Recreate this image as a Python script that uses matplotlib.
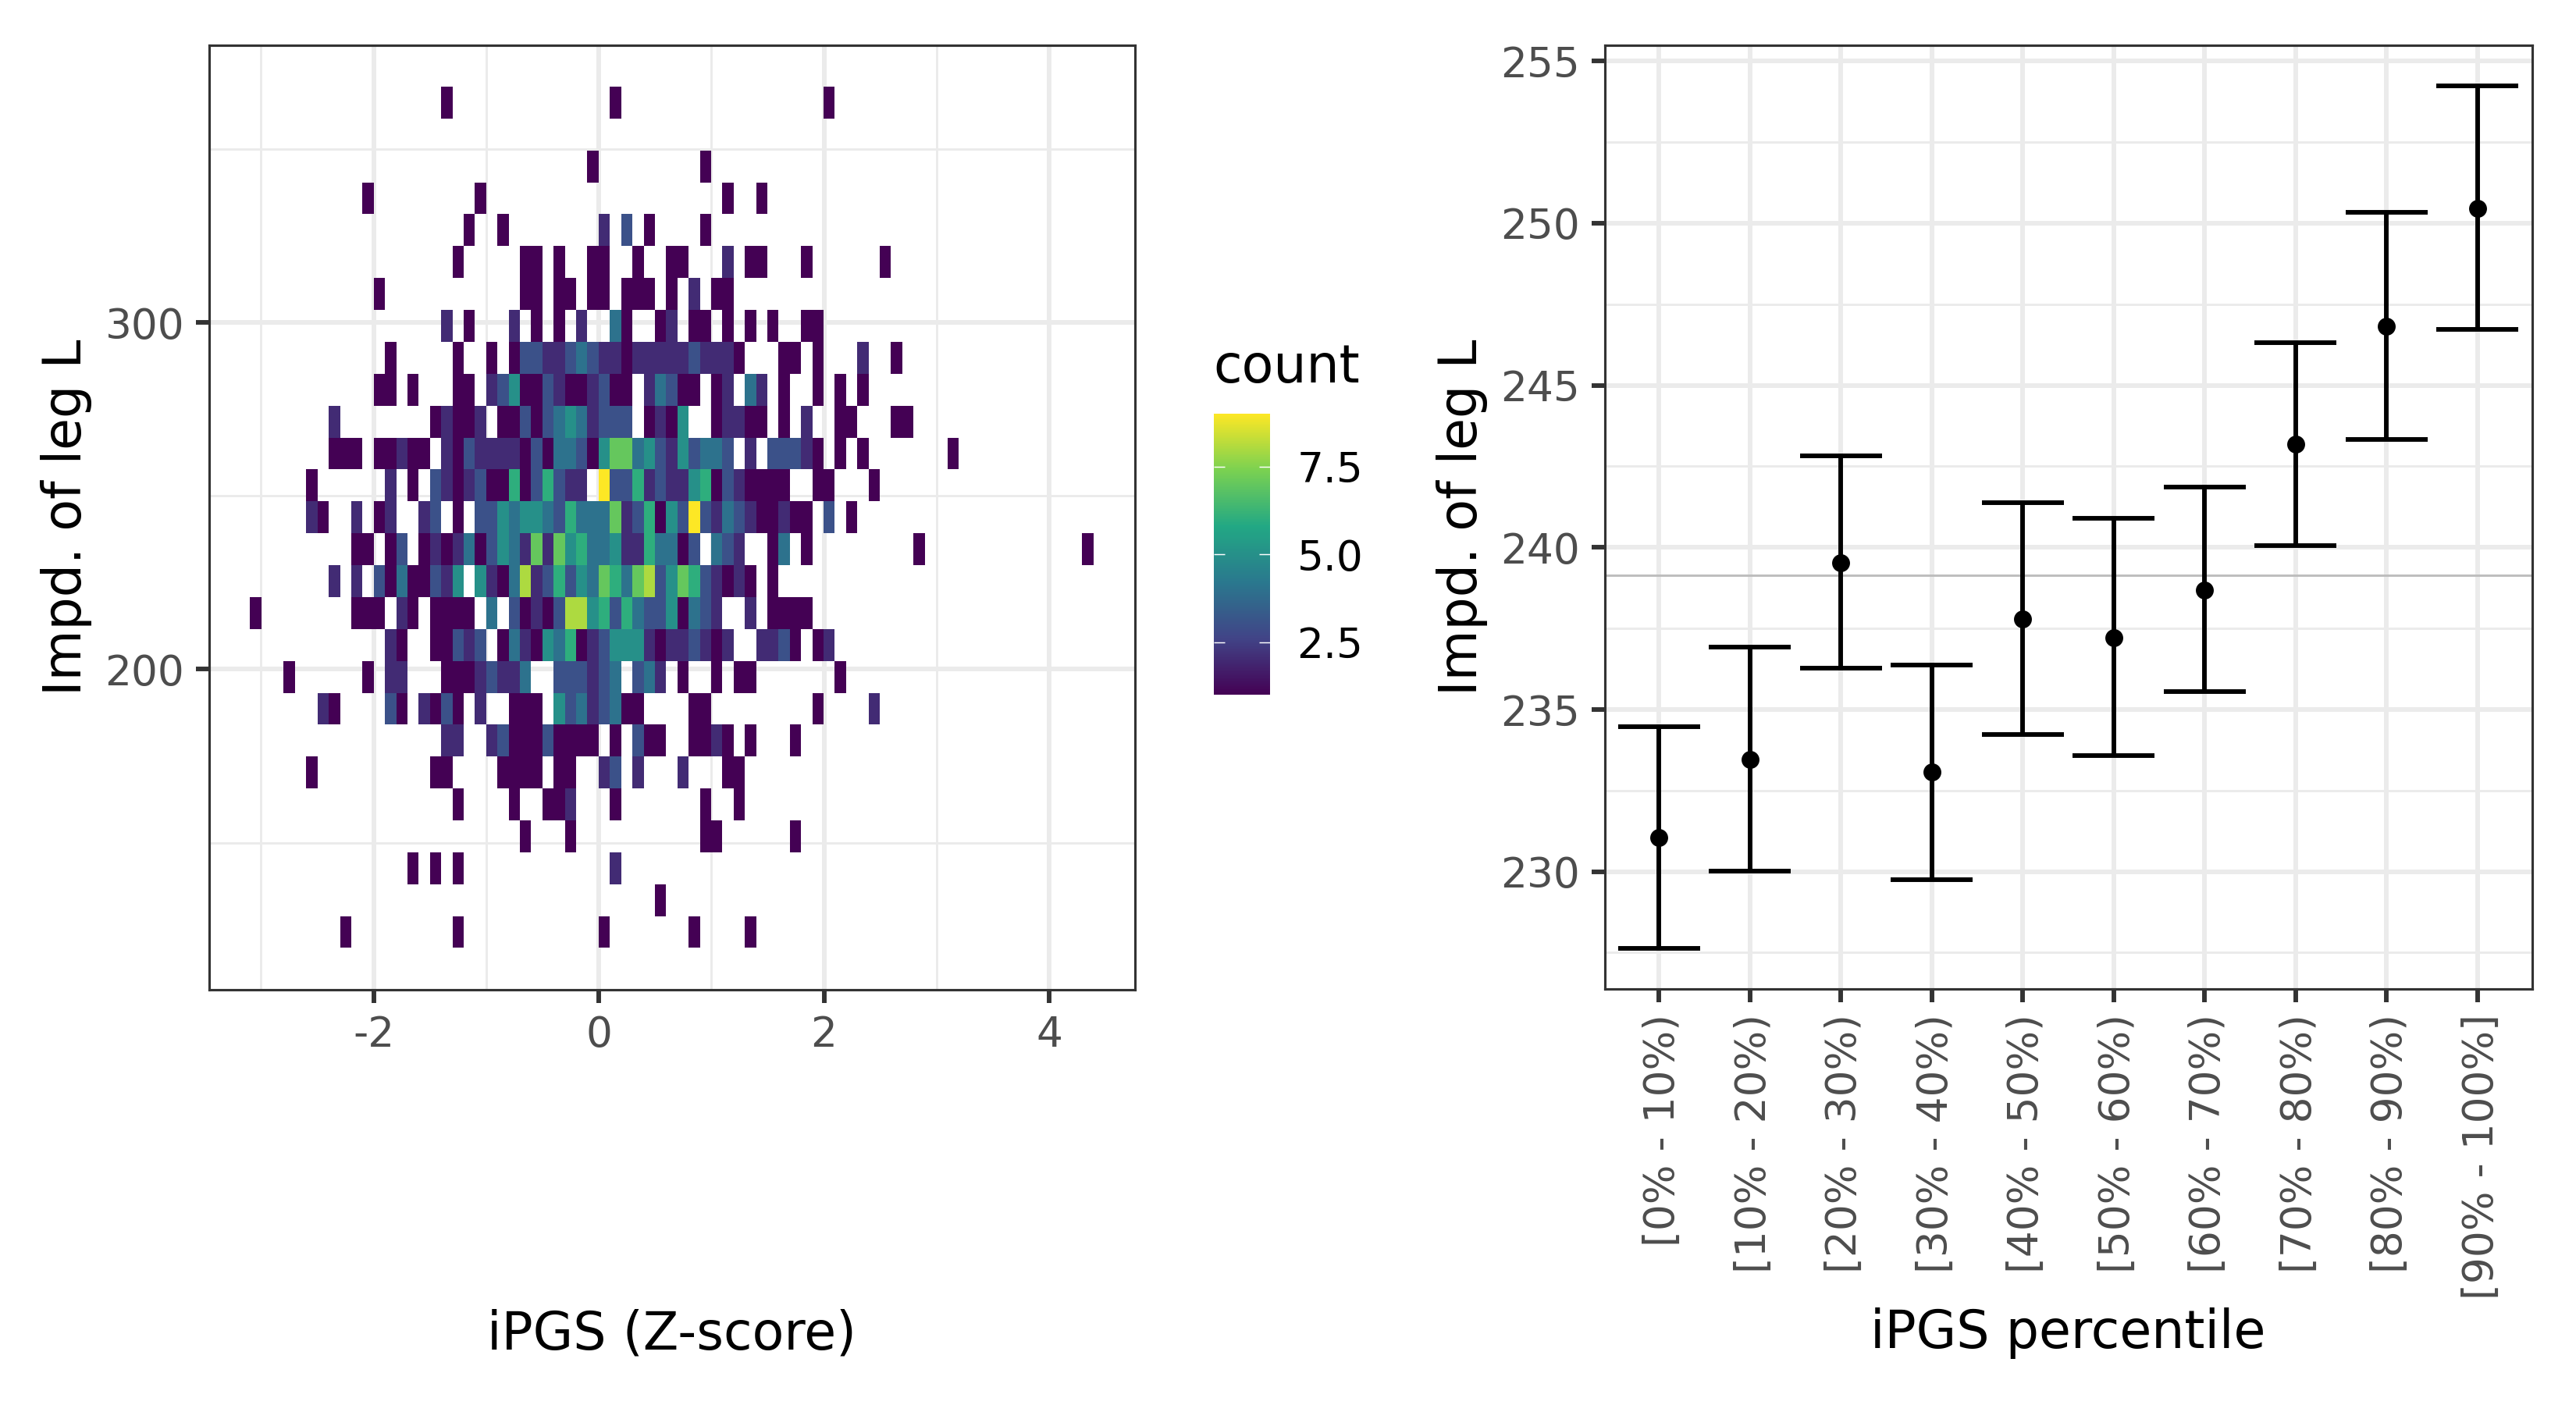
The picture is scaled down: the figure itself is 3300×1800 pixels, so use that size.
#!/usr/bin/python3

import matplotlib
matplotlib.use("Agg")
import matplotlib.pyplot as plt
import numpy as np
from matplotlib.colors import LinearSegmentedColormap
from matplotlib.transforms import ScaledTranslation

# left panel: 2d histogram, one list per row from the top, (first column, counts)
FIRST_COL = -10
N_COLS = 75
x_min, x_max = -3.098, 4.394
y_top, y_bottom = 368.0, 119.65
cell_rows = [
    [(7, [1]), (22, [1]), (41, [1])],
    [],
    [(20, [1]), (30, [1])],
    [(0, [1]), (10, [1]), (32, [1]), (35, [1])],
    [(9, [1]), (12, [1]), (21, [2]), (23, [3]), (25, [1]), (30, [1])],
    [(8, [1]), (14, [1, 1]), (17, [1]), (20, [1, 1]), (24, [1]), (27, [1, 1]), (32, [2]), (34, [1, 1]), (39, [1]), (46, [1])],
    [(1, [1]), (14, [1, 1]), (17, [1, 1]), (20, [1, 1]), (23, [1, 1, 1]), (27, [1]), (29, [2]), (31, [1, 1])],
    [(7, [2]), (9, [1]), (13, [2]), (15, [1]), (17, [1]), (19, [2]), (22, [4, 1]), (26, [1, 2]), (29, [1, 1]), (32, [1]), (34, [1]), (36, [1]), (39, [1, 1])],
    [(2, [1]), (8, [1]), (11, [1]), (13, [1, 3, 3, 2, 2, 3, 4, 3, 2, 2, 1, 2, 2, 2, 2, 2, 3, 2, 2, 2, 1]), (37, [1, 1]), (40, [1]), (44, [2]), (47, [1])],
    [(1, [1, 1]), (4, [1]), (8, [1, 1]), (11, [2, 3, 5, 1, 1, 3, 2, 1, 1, 2, 3, 1, 1]), (25, [2, 4, 3, 1, 1]), (31, [1, 2]), (34, [4, 2]), (37, [1]), (40, [1]), (42, [1]), (44, [1])],
    [(-3, [2]), (6, [1, 2, 1, 1, 2]), (12, [1, 1, 3, 1, 3, 4, 5, 4, 2, 3, 3, 3]), (25, [1, 2, 1, 5]), (31, [1, 2, 2, 1, 1]), (37, [1]), (39, [2]), (42, [1, 1]), (47, [1, 1])],
    [(-3, [1, 1, 1]), (1, [1, 1, 2, 1, 1]), (7, [2, 1, 3, 2, 2, 2, 2, 1, 3, 1, 4, 4, 3, 1, 5, 7, 7, 4, 5, 3, 2, 5, 3, 4, 4, 3]), (34, [2]), (36, [3, 3, 3, 2, 1]), (42, [1]), (44, [1]), (52, [1])],
    [(-5, [1]), (2, [2]), (4, [1]), (6, [3, 2, 1, 2, 3, 1, 1, 6, 1, 3, 6, 3, 2, 2]), (21, [9, 3, 3, 6, 2, 3, 2, 2, 5, 6, 1, 3, 2, 1, 1, 1, 1]), (40, [1, 1]), (45, [1])],
    [(-5, [2, 1]), (-1, [2]), (1, [1, 2]), (5, [2, 3]), (8, [1]), (10, [3, 3, 5, 4, 5, 5, 4, 3, 6, 4, 4, 4, 7, 2, 3, 6, 1, 5, 3, 9, 3, 2, 4, 3, 2, 1, 1, 2, 1, 1]), (41, [3]), (43, [1])],
    [(-1, [1, 1]), (2, [1, 3]), (5, [1, 2, 1, 2, 4, 1, 3, 5, 4, 2, 7, 2, 7, 5, 6, 4, 4, 5, 2, 2, 6, 4, 4, 1, 3]), (31, [4, 3, 2]), (36, [1, 4]), (39, [1]), (49, [1]), (64, [1])],
    [(-3, [2]), (-1, [2]), (1, [3, 1, 4, 1, 1, 3, 2, 5]), (10, [5, 2, 1, 4, 8, 2, 3, 6, 3, 5, 4, 7, 6, 4, 7, 8, 3, 5, 7, 6, 3, 2, 1, 2, 1]), (36, [1])],
    [(-10, [1]), (-1, [1, 1, 1]), (3, [2, 1]), (6, [1, 1, 1, 1]), (11, [4]), (13, [3, 1, 2, 1, 3, 8, 8, 5, 6, 3, 6, 4, 3, 3, 5, 1, 4, 3, 2]), (34, [2]), (36, [1, 1, 1, 1])],
    [(2, [2, 1]), (6, [1, 1, 3, 2, 3]), (12, [1, 4, 2, 1, 5, 4, 6, 1, 2, 3, 5, 5, 5, 2, 1, 2, 2, 3, 2, 1, 2]), (35, [2, 2, 3, 1]), (40, [1, 2])],
    [(-7, [1]), (0, [1]), (2, [2, 2]), (7, [1, 1, 1, 2, 3, 2, 2, 4]), (17, [3, 3, 3, 2, 3, 4]), (24, [3, 4, 2]), (28, [1]), (31, [1]), (33, [1, 1]), (42, [1])],
    [(-4, [2, 1]), (2, [3, 1]), (5, [2, 1, 3, 1]), (10, [2]), (13, [1, 1, 1]), (17, [5, 3, 4, 2, 3, 4, 1, 1]), (29, [1, 1]), (40, [1]), (45, [2])],
    [(7, [2, 2]), (11, [2, 3, 1, 1, 1, 3, 1, 1, 1, 1]), (22, [1]), (24, [3, 1, 1]), (29, [1, 1, 2, 1]), (34, [1]), (38, [1])],
    [(-5, [1]), (6, [1, 1]), (12, [1, 1, 1, 1]), (17, [1, 1]), (21, [2, 3]), (24, [2]), (28, [2]), (32, [1, 1])],
    [(8, [1]), (13, [1]), (16, [1, 1, 2]), (22, [1]), (30, [1]), (33, [1])],
    [(14, [1]), (18, [1]), (30, [1, 1]), (38, [1])],
    [(4, [1]), (6, [1]), (8, [1]), (22, [2])],
    [(26, [1])],
    [(-2, [1]), (8, [1]), (21, [1]), (29, [1]), (34, [1])],
]

# right panel: mean and confidence interval per percentile group
percentile_labels = [
    "[0% - 10%)", "[10% - 20%)", "[20% - 30%)", "[30% - 40%)", "[40% - 50%)",
    "[50% - 60%)", "[60% - 70%)", "[70% - 80%)", "[80% - 90%)", "[90% - 100%]",
]
means = [231.06, 233.47, 239.53, 233.07, 237.78, 237.21, 238.68, 243.18, 246.83, 250.46]
lower = [227.64, 230.02, 236.27, 229.75, 234.23, 233.57, 235.55, 240.05, 243.34, 246.73]
upper = [234.48, 236.92, 242.82, 236.38, 241.37, 240.89, 241.85, 246.32, 250.34, 254.23]
overall_mean = 239.13

viridis_6 = ["#440154", "#414487", "#2A788E", "#22A884", "#7AD151", "#FDE725"]

GRID = "#EBEBEB"
DARK = "#333333"
TICK_TEXT = "#4D4D4D"
W, H = 3300, 1800


def add_axes_px(fig, left, top, right, bottom):
    return fig.add_axes([left / W, 1 - bottom / H, (right - left) / W, (bottom - top) / H])


def style_panel(ax):
    for spine in ax.spines.values():
        spine.set_linewidth(0.75)
        spine.set_color(DARK)
        spine.set_zorder(5)
    ax.set_axisbelow(True)
    ax.grid(which="major", color=GRID, linewidth=1.42)
    ax.grid(which="minor", color=GRID, linewidth=0.71)
    ax.tick_params(which="major", length=4.1, width=1.42, color=DARK,
                   labelcolor=TICK_TEXT, labelsize=12.8, pad=3.5)
    ax.tick_params(which="minor", length=0)


def build_grid():
    grid = np.zeros((len(cell_rows), N_COLS))
    for r, runs in enumerate(cell_rows):
        for start, values in runs:
            for k, v in enumerate(values):
                grid[r, start - FIRST_COL + k] = v
    return np.ma.masked_equal(grid, 0)


def plot_heatmap(fig, cmap):
    ax = add_axes_px(fig, 267.9, 57.7, 1453.6, 1268)
    style_panel(ax)
    x_edges = np.linspace(x_min, x_max, N_COLS + 1)
    y_edges = np.linspace(y_top, y_bottom, len(cell_rows) + 1)
    mesh = ax.pcolormesh(x_edges, y_edges, build_grid(), cmap=cmap, vmin=1, vmax=9,
                         linewidth=0, antialiased=True, zorder=2)
    ax.set_xlim(-3.461, 4.76)
    ax.set_ylim(107.6, 380.0)
    ax.set_xticks([-2, 0, 2, 4])
    ax.set_xticks([-3, -1, 1, 3], minor=True)
    ax.set_yticks([200, 300])
    ax.set_yticks([150, 250, 350], minor=True)
    ax.set_xlabel("iPGS (Z-score)", fontsize=16, va="center")
    ax.xaxis.set_label_coords(0.5, -0.3645)
    ax.set_ylabel("Impd. of leg L", fontsize=16, va="center")
    ax.yaxis.set_label_coords(-0.154, 0.5)
    return mesh


def plot_legend(fig, mesh):
    cax = add_axes_px(fig, 1555, 530, 1627, 890)
    cbar = fig.colorbar(mesh, cax=cax)
    cbar.outline.set_visible(False)
    cbar.set_ticks([2.5, 5.0, 7.5], labels=["2.5", "5.0", "7.5"])
    cax.tick_params(length=0, labelsize=12.8, labelcolor="black", pad=8.3)
    for v in [2.5, 5.0, 7.5]:
        cax.plot([0, 0.2], [v, v], color="white", linewidth=0.35,
                 transform=cax.get_yaxis_transform(), solid_capstyle="butt")
        cax.plot([0.8, 1], [v, v], color="white", linewidth=0.35,
                 transform=cax.get_yaxis_transform(), solid_capstyle="butt")
    fig.text(1554 / W, 1 - 490 / H, "count", fontsize=16, color="black", ha="left", va="baseline")


def plot_percentiles(fig):
    ax = add_axes_px(fig, 2055.5, 57.9, 3243.5, 1267)
    style_panel(ax)
    xs = np.arange(1, len(means) + 1)
    ax.axhline(overall_mean, color="#BEBEBE", linewidth=0.71, zorder=2)
    ax.vlines(xs, lower, upper, color="black", linewidth=1.42, zorder=3)
    ax.hlines(lower, xs - 0.45, xs + 0.45, color="black", linewidth=1.42, zorder=3)
    ax.hlines(upper, xs - 0.45, xs + 0.45, color="black", linewidth=1.42, zorder=3)
    ax.plot(xs, means, "o", color="black", markersize=5.5, markeredgewidth=0, zorder=4)
    ax.set_xlim(0.4, 10.6)
    ax.set_ylim(226.38, 255.49)
    ax.set_xticks(xs)
    ax.set_xticklabels(percentile_labels, rotation=90, ha="center", va="top")
    # labels sit a little right of their ticks in the original
    shift = ScaledTranslation(5 / 300, 0, fig.dpi_scale_trans)
    for label in ax.get_xticklabels():
        label.set_transform(label.get_transform() + shift)
    ax.set_yticks([230, 235, 240, 245, 250, 255])
    ax.set_yticks([227.5, 232.5, 237.5, 242.5, 247.5, 252.5], minor=True)
    ax.set_xlabel("iPGS percentile", fontsize=16, va="center")
    ax.xaxis.set_label_coords(0.5, -0.3645)
    ax.set_ylabel("Impd. of leg L", fontsize=16, va="center")
    ax.yaxis.set_label_coords(-0.1535, 0.5)


if __name__ == "__main__":
    plt.rcParams["font.family"] = "DejaVu Sans"
    plt.rcParams["axes.unicode_minus"] = False

    cmap = LinearSegmentedColormap.from_list("viridis_6", viridis_6)
    fig = plt.figure(figsize=(11, 6), dpi=300)
    mesh = plot_heatmap(fig, cmap)
    plot_legend(fig, mesh)
    plot_percentiles(fig)
    fig.savefig("out.png", dpi=300)
